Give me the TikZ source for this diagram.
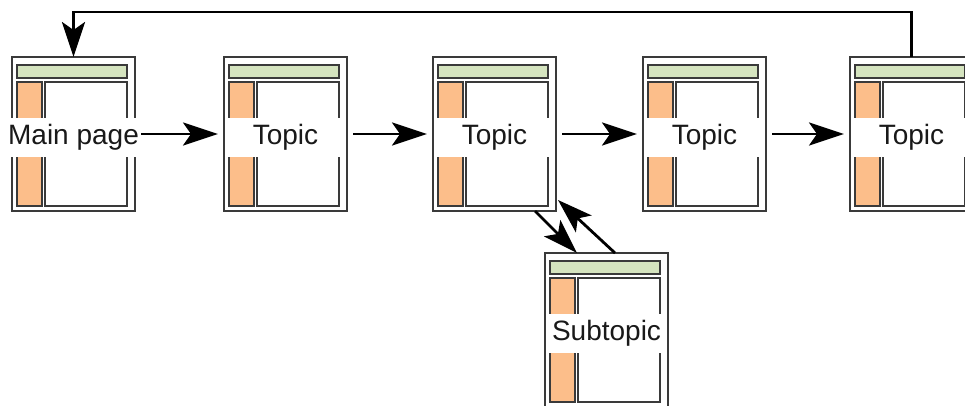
\documentclass[tikz,border=0pt]{standalone}
\usepackage{fontspec}
\setmainfont{Liberation Sans}
\usetikzlibrary{arrows.meta,calc}

\definecolor{barGreen}{HTML}{D5E4BF}
\definecolor{sideOrange}{HTML}{FCBE8A}
\definecolor{frameGray}{HTML}{3A3A3A}

\tikzset{
  webpage/.style={draw=frameGray, line width=1.7pt, fill=white,
    minimum width=123pt, minimum height=154pt, inner sep=0pt, outer sep=0pt,
    anchor=north west},
  pagepart/.style={draw=frameGray, line width=1.5pt},
  pagelabel/.style={fill=white, text=black!90, font=\fontsize{28}{30}\selectfont,
    inner xsep=3pt, inner ysep=7pt, text height=20pt, text depth=5pt,
    minimum width=116pt},
  navlink/.style={draw=black, line width=2.8pt,
    -{Stealth[length=35pt,width=23pt,inset=8pt]}},
}

% one page sketch: header bar, side column, content area and its caption
\newcommand\drawpage[3]{%
  \node[webpage] (#1) at (#2) {};
  \draw[pagepart, fill=barGreen] ($(#1.north west)+(5,8)$) rectangle ($(#1.north west)+(115,21)$);
  \draw[pagepart, fill=sideOrange] ($(#1.north west)+(5,25)$) rectangle ($(#1.north west)+(30,149)$);
  \draw[pagepart] ($(#1.north west)+(33,25)$) rectangle ($(#1.north west)+(115,149)$);
  \node[pagelabel] (#1-text) at ($(#1.center)+(0,3)$) {#3};
}

\begin{document}
\begin{tikzpicture}[x=1pt,y=-1pt]
  \path[use as bounding box, clip] (0,0) rectangle (965,405);

  \drawpage{p1}{12,57}{Main page}
  \drawpage{p2}{224,57}{Topic}
  \drawpage{p3}{433,57}{Topic}
  \drawpage{p4}{643,57}{Topic}
  \drawpage{p5}{850,57}{Topic}
  \drawpage{sub}{545,253}{Subtopic}

  % forward links along the row
  \draw[navlink, shorten <=6pt, shorten >=6pt] (p1.east) -- (p2.west);
  \draw[navlink, shorten <=6pt, shorten >=6pt] (p2.east) -- (p3.west);
  \draw[navlink, shorten <=6pt, shorten >=6pt] (p3.east) -- (p4.west);
  \draw[navlink, shorten <=6pt, shorten >=6pt] (p4.east) -- (p5.west);

  % return link from the last topic to the main page
  \draw[navlink] (p5.north) -- ++(0,-45) -| (p1.north);

  % down to the subtopic and back up
  \draw[navlink] ($(p3.south west)+(102,0)$) -- ($(sub.north west)+(32,0)$);
  \draw[navlink] ($(sub.north west)+(70,0)$) -- ($(p3.south east)+(2,-11)$);
\end{tikzpicture}
\end{document}
